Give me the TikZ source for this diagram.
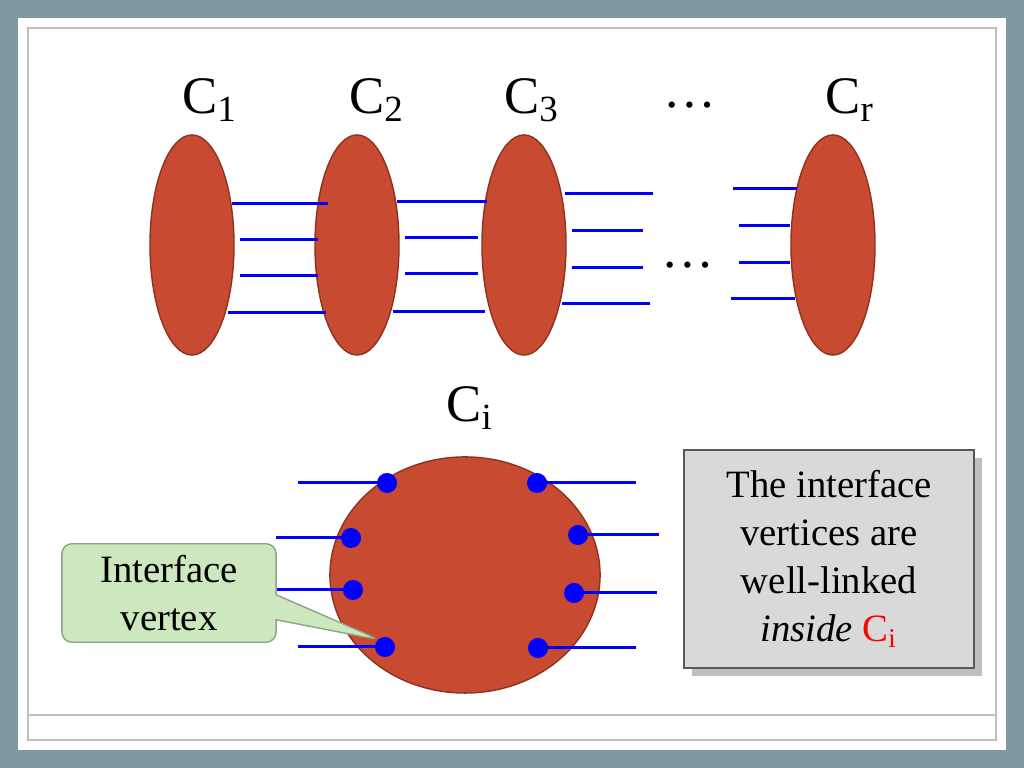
\documentclass[tikz,border=0pt]{standalone}
\usepackage{fontspec}
\setmainfont{Liberation Serif}
\usetikzlibrary{shapes.geometric,shapes.callouts,shadows}
\definecolor{slate}{HTML}{7F99A3}
\definecolor{clay}{HTML}{C84A30}
\definecolor{clayedge}{HTML}{8E3320}
\definecolor{mint}{HTML}{CDE8BE}
\begin{document}
\begin{tikzpicture}[x=0.01cm,y=-0.01cm,
    cluster/.style={ellipse,draw=clayedge,fill=clay,minimum width=0.84cm,minimum height=2.2cm,inner sep=0pt},
    wire/.style={blue,line width=0.85pt},
    port/.style={circle,fill=blue,inner sep=0pt,minimum size=0.2cm},
    title/.style={font=\fontsize{15}{15}\selectfont}]
    \useasboundingbox (0,0) rectangle (1024,768);
    \fill[slate] (0,0) rectangle (1024,768);
    \fill[white] (18,18) rectangle (1006,750);
    \draw[gray!50,line width=0.3pt] (28,28) rectangle (996,740);
    \draw[gray!50,line width=0.3pt] (28,715) -- (996,715);

    % clusters
    \node[cluster] (C1) at (192,245) {};
    \node[cluster] (C2) at (357,245) {};
    \node[cluster] (C3) at (524,245) {};
    \node[cluster] (Cr) at (833,245) {};
    \node[title] (L1) at (210,100) {C\textsubscript{1}};
    \node[title] (L2) at (377,100) {C\textsubscript{2}};
    \node[title] (L3) at (532,100) {C\textsubscript{3}};
    \node[title] (Ld) at (690,105) {\dots};
    \node[title] (Lr) at (850,100) {C\textsubscript{r}};
    \node[title] (Md) at (688,265) {\dots};

    % edges between clusters
    \foreach \y/\a/\b in {204/232/328,240/240/318,276/240/318,313/228/326,
                          202/397/487,238/405/478,274/405/478,312/393/485,
                          194/565/653,231/572/643,268/572/643,304/562/650,
                          189/733/797,226/739/790,263/739/790,299/731/795}
        \draw[wire] (\a,\y) -- (\b,\y);

    % C_i
    \node[title] (Li) at (470,408) {C\textsubscript{i}};
    \node[ellipse,draw=clayedge,fill=clay,minimum width=2.7cm,minimum height=2.36cm,inner sep=0pt] (Ci) at (465,575) {};
    \foreach \x/\y/\e in {387/483/298,351/538/276,353/590/276,385/647/298,
                          537/483/636,578/535/659,574/593/657,538/648/636}
        \draw[wire] (\x,\y) -- (\e,\y) node[pos=0,port] {};

    \node[rectangle callout,rounded corners=0.1cm,draw=mint!70!black,fill=mint,
          minimum width=2.14cm,minimum height=0.96cm,align=center,
          callout absolute pointer={(380,640)},
          font=\fontsize{11}{13.5}\selectfont] (note) at (169,593) {Interface\\vertex};
    \node[draw=gray!70!black,fill=gray!30,drop shadow,minimum width=2.9cm,minimum height=2.18cm,
          align=center,font=\fontsize{11}{13.6}\selectfont] (claim) at (829,559)
          {The interface\\vertices are\\well-linked\\\textit{inside} \textcolor{red}{C\textsubscript{i}}};
\end{tikzpicture}
\end{document}
